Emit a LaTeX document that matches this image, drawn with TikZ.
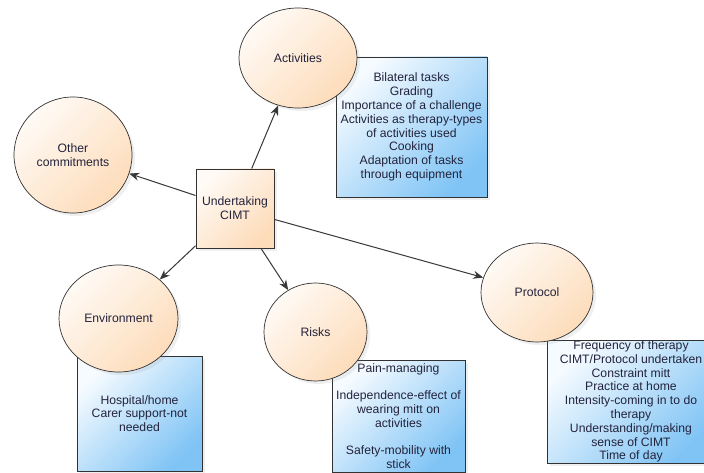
\documentclass[tikz,border=0pt]{standalone}
\usepackage{fontspec}
\setmainfont{Liberation Sans}
\usetikzlibrary{shapes.geometric,arrows.meta,shadows}
\definecolor{txt}{RGB}{35,35,60}
\definecolor{peach}{RGB}{253,220,186}
\definecolor{peachlt}{RGB}{255,250,245}
\definecolor{blueA}{RGB}{128,196,245}
\definecolor{blueB}{RGB}{246,251,255}
\definecolor{edge}{RGB}{50,50,50}
\begin{document}
\begin{tikzpicture}[x=1pt,y=-1pt,
  font=\fontsize{12.2}{13.8}\selectfont,
  shad/.style={drop shadow={opacity=0.12,shadow xshift=3pt,shadow yshift=-3pt}},
  circ/.style={ellipse,draw=edge,line width=0.7pt,inner sep=0pt,align=center,text=txt,
    top color=peachlt,bottom color=peach,shading angle=45,shad},
  bluebox/.style={rectangle,draw=edge,line width=0.9pt,inner sep=0pt,align=center,text=txt,
    top color=blueB,bottom color=blueA,shading angle=45,shad},
  peachbox/.style={rectangle,draw=edge,line width=0.9pt,inner sep=0pt,align=center,text=txt,
    top color=peachlt,bottom color=peach,shading angle=45,shad},
  arr/.style={draw=black!78,line width=1pt,-{Stealth[length=10pt,width=8pt]}}]
\useasboundingbox (0,0) rectangle (704,473);
\fill[white] (0,0) rectangle (704,473);
% detail boxes
\node[bluebox,minimum width=151pt,minimum height=140pt] (actbox) at (411.5,127)
  {Bilateral tasks\\Grading\\Importance of a challenge\\Activities as therapy-types\\of activities used\\Cooking\\Adaptation of tasks\\through equipment};
\node[bluebox,minimum width=125pt,minimum height=115pt] (envbox) at (139.5,413.5)
  {Hospital/home\\Carer support-not\\needed};
\node[bluebox,minimum width=133pt,minimum height=112pt] (riskbox) at (398.5,416)
  {Pain-managing\\[13.8pt]Independence-effect of\\wearing mitt on\\activities\\[13.8pt]Safety-mobility with\\stick};
\node[bluebox,minimum width=168pt,minimum height=123pt] (protbox) at (631,401.5)
  {Frequency of therapy\\CIMT/Protocol undertaken\\Constraint mitt\\Practice at home\\Intensity-coming in to do\\therapy\\Understanding/making\\sense of CIMT\\Time of day};
% theme circles
\node[circ,minimum width=118pt,minimum height=100pt] (act) at (298,58) {Activities};
\node[circ,minimum width=118pt,minimum height=116pt] (oth) at (73,155) {Other\\commitments};
\node[circ,minimum width=119pt,minimum height=107pt] (env) at (118.5,318.5) {Environment};
\node[circ,minimum width=103pt,minimum height=98pt] (risk) at (315.5,332) {Risks};
\node[circ,minimum width=112pt,minimum height=99pt] (prot) at (537,292.5) {Protocol};
% centre
\node[peachbox,minimum width=78pt,minimum height=79pt] (cimt) at (235,208.5) {Undertaking\\CIMT};
% connectors
\draw[arr] (cimt) -- (act);
\draw[arr] (cimt) -- (oth);
\draw[arr] (cimt) -- (env);
\draw[arr] (cimt) -- (risk);
\draw[arr] (cimt) -- (prot);
\end{tikzpicture}
\end{document}
